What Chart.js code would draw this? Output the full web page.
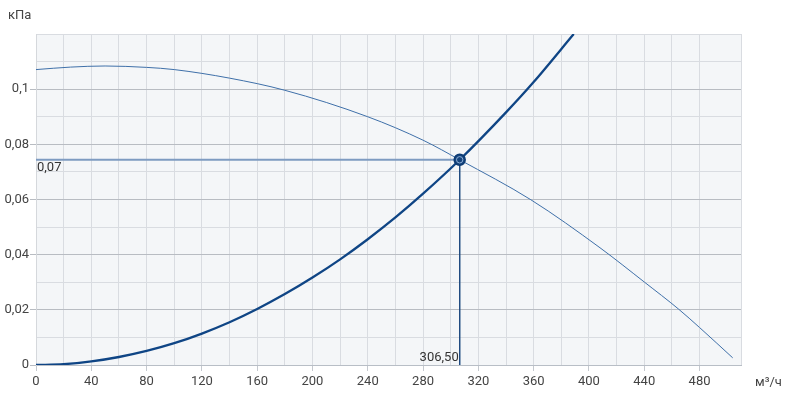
<!DOCTYPE html>
<html>
<head>
<meta charset="utf-8">
<script src="https://cdn.jsdelivr.net/npm/chart.js@4/dist/chart.umd.min.js"></script>
<style>
html,body{margin:0;padding:0;background:#fff;}
canvas{display:block;}
</style>
</head>
<body>
<canvas id="c" width="788" height="394"></canvas>
<script>
// System (network) curve, m³/h vs kPa
const systemFlow = [0, 20, 40, 60, 80, 100, 120, 140, 160, 180, 200, 220, 240, 260, 280, 306.5, 340, 360, 389];
const systemPressure = [0, 0.0003, 0.0013, 0.0029, 0.0051, 0.0079, 0.0114, 0.0155, 0.0203, 0.0257, 0.0317, 0.0383, 0.0456, 0.0535, 0.0621, 0.0744, 0.0916, 0.1026, 0.12];
// Fan curve
const fanFlow = [0, 25, 50, 80, 100, 140, 180, 240, 280, 306.5, 358, 408, 440, 465, 480, 504];
const fanPressure = [0.1071, 0.1080, 0.1084, 0.1079, 0.1071, 0.1040, 0.0996, 0.0900, 0.0815, 0.0744, 0.0599, 0.0425, 0.0301, 0.0202, 0.0136, 0.0026];
// Operating point
const operatingFlow = 306.5;
const operatingPressure = 0.0744;
const pressureLabel = '0,07';
const flowLabel = '306,50';
const yUnit = 'кПа';
const xUnit = 'м³/ч';

const toPts = (xs, ys) => xs.map((x, i) => ({x: x, y: ys[i]}));

const FONT = 'Roboto, "Open Sans", sans-serif';

const bgPlugin = {
  id: 'bg',
  beforeDraw(chart) {
    const a = chart.chartArea, ctx = chart.ctx;
    ctx.save();
    ctx.fillStyle = '#f4f6f8';
    ctx.fillRect(a.left, a.top, a.right - a.left, a.bottom - a.top);
    ctx.restore();
  },
  afterDraw(chart) {
    const ctx = chart.ctx, xs = chart.scales.x, ys = chart.scales.y;
    ctx.save();
    ctx.font = '13px ' + FONT;
    ctx.fillStyle = '#444';
    ctx.textBaseline = 'middle';
    ctx.textAlign = 'left';
    ctx.fillText(yUnit, 8, 16);
    ctx.fillText(xUnit, 755, 383);
    ctx.fillStyle = '#333';
    ctx.textBaseline = 'top';
    ctx.fillText(pressureLabel, xs.getPixelForValue(0) + 1, ys.getPixelForValue(operatingPressure) + 1);
    ctx.textAlign = 'right';
    ctx.textBaseline = 'bottom';
    ctx.fillText(flowLabel, xs.getPixelForValue(operatingFlow) - 1, ys.getPixelForValue(0) - 1);
    ctx.restore();
  }
};

new Chart(document.getElementById('c'), {
  type: 'line',
  data: {
    datasets: [
      {
        data: [{x: operatingFlow, y: operatingPressure}],
        showLine: false,
        pointRadius: 3.2,
        pointBackgroundColor: '#15447d',
        pointBorderColor: '#8fb0d8',
        pointBorderWidth: 1,
        order: 0
      },
      {
        data: [{x: operatingFlow, y: operatingPressure}],
        showLine: false,
        pointRadius: 5.5,
        pointBackgroundColor: '#15447d',
        pointBorderColor: '#0d3b73',
        pointBorderWidth: 1.5,
        order: 1
      },
      {
        data: toPts(systemFlow, systemPressure),
        borderColor: '#0f4585',
        borderWidth: 2.3,
        pointRadius: 0,
        cubicInterpolationMode: 'monotone',
        order: 2
      },
      {
        data: toPts(fanFlow, fanPressure),
        borderColor: '#3f70a9',
        borderWidth: 1,
        pointRadius: 0,
        cubicInterpolationMode: 'monotone',
        order: 3
      },
      {
        data: [{x: operatingFlow, y: operatingPressure}, {x: operatingFlow, y: 0}],
        borderColor: '#1f4a80',
        borderWidth: 1,
        pointRadius: 0,
        order: 4
      },
      {
        data: [{x: 0, y: operatingPressure}, {x: operatingFlow, y: operatingPressure}],
        borderColor: '#7e9bc1',
        borderWidth: 2,
        pointRadius: 0,
        order: 5
      }
    ]
  },
  options: {
    responsive: false,
    animation: false,
    events: [],
    layout: {padding: {top: 34, right: 47, left: 0, bottom: 0}},
    plugins: {legend: {display: false}, tooltip: {enabled: false}, title: {display: false}},
    scales: {
      x: {
        type: 'linear',
        min: 0,
        max: 510,
        afterFit(s) { s.height = 29; },
        border: {display: true, color: '#b8bec6'},
        grid: {
          color: '#d9dce1',
          tickLength: 6,
          tickColor: (c) => (c.tick && Math.round(c.tick.value) % 40 === 0 && c.tick.value <= 480) ? '#c5c9cf' : 'rgba(0,0,0,0)'
        },
        ticks: {
          stepSize: 20,
          autoSkip: false,
          maxRotation: 0,
          padding: 3,
          color: '#444',
          font: {family: FONT, size: 13},
          callback: (v) => (Math.round(v) % 40 === 0 && v <= 480) ? String(Math.round(v)) : ''
        }
      },
      y: {
        type: 'linear',
        min: 0,
        max: 0.12,
        afterFit(s) { s.width = 36; },
        border: {display: true, color: '#d5d8dc'},
        grid: {
          color: (c) => {
            if (!c.tick) return '#d9dce1';
            const k = Math.round(c.tick.value * 100);
            return (k % 2 === 0 && k < 12) ? '#b8bcc2' : '#d9dce1';
          },
          tickLength: 6,
          tickColor: (c) => {
            if (!c.tick) return 'rgba(0,0,0,0)';
            const k = Math.round(c.tick.value * 100);
            return (k % 2 === 0 && k < 12) ? '#b8bcc2' : 'rgba(0,0,0,0)';
          }
        },
        ticks: {
          stepSize: 0.01,
          autoSkip: false,
          padding: 1,
          color: '#444',
          font: {family: FONT, size: 13},
          callback: (v) => {
            const k = Math.round(v * 100);
            if (k % 2 !== 0 || k >= 12) return '';
            return String(Number((k / 100).toFixed(2))).replace('.', ',');
          }
        }
      }
    }
  },
  plugins: [bgPlugin]
});
</script>
</body>
</html>
